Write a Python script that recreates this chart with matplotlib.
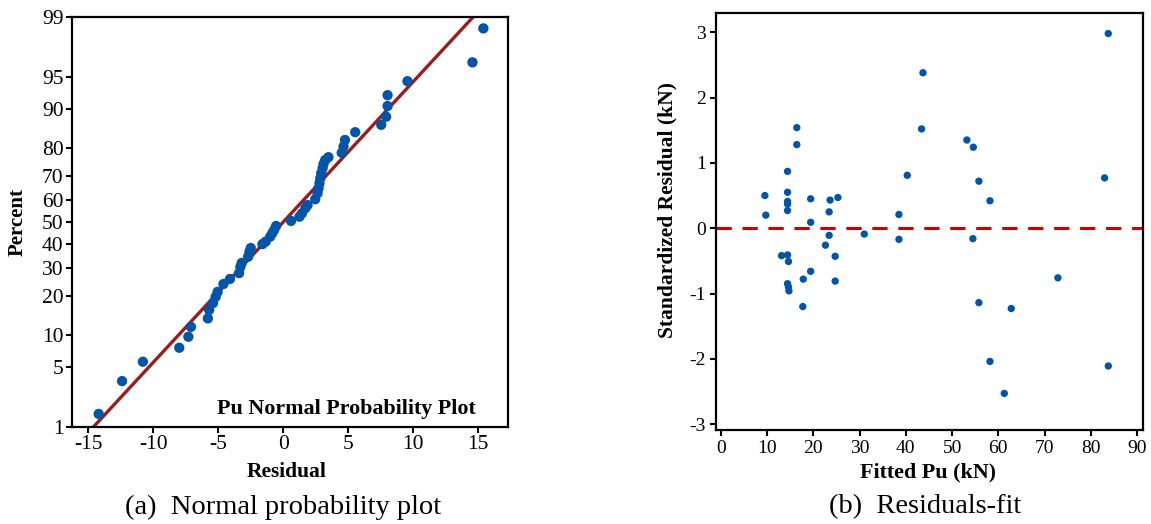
import numpy as np
import matplotlib
matplotlib.use('Agg')
import matplotlib.pyplot as plt
from statistics import NormalDist

plt.rcParams['font.family'] = ['Liberation Serif', 'DejaVu Serif']
plt.rcParams['axes.unicode_minus'] = False

# (a) normal probability plot
residual = [-14.2, -12.4, -10.8, -8.0, -7.3, -7.1, -5.8, -5.7, -5.4, -5.2,
            -5.05, -4.6, -4.1, -3.4, -3.3, -3.2, -2.7, -2.6, -2.5, -1.6,
            -1.35, -1.0, -0.85, -0.7, -0.55, 0.6, 1.25, 1.44, 1.7, 1.87,
            2.46, 2.64, 2.72, 2.79, 2.85, 2.92, 3.03, 3.10, 3.23, 3.48,
            4.5, 4.64, 4.75, 5.54, 7.54, 7.92, 8.03, 8.03, 9.56, 14.56, 15.4]
percent = [1.47, 3.55, 5.64, 7.68, 9.65, 11.7, 13.7, 15.9, 17.9, 19.8,
           21.4, 24.1, 25.9, 28.1, 30.5, 32.1, 34.7, 36.8, 38.4, 40.1,
           41.2, 43.4, 44.9, 46.4, 48.2, 50.5, 52.4, 53.9, 56.2, 57.6,
           60.2, 62.8, 64.9, 67.0, 69.0, 71.0, 72.9, 74.5, 75.9, 76.9,
           78.4, 80.4, 82.4, 84.6, 86.5, 88.4, 90.6, 92.5, 94.5, 96.5, 98.6]
fit_mean = 0.0
fit_sd = 6.28
pct_ticks = [1, 5, 10, 20, 30, 40, 50, 60, 70, 80, 90, 95, 99]
res_ticks = [-15, -10, -5, 0, 5, 10, 15]

# (b) standardized residual vs fitted value
fitted = [9.5, 9.7, 14.4, 14.4, 14.4, 14.4, 14.4, 16.4, 16.4, 19.4,
          19.4, 23.6, 25.3, 23.4, 31.0, 23.4, 22.6, 38.5, 38.5, 24.7,
          13.1, 14.4, 14.6, 19.4, 17.8, 24.7, 14.4, 14.6, 14.7, 17.7,
          40.3, 43.4, 43.7, 53.2, 54.6, 55.8, 58.2, 54.5, 83.8, 83.0,
          72.9, 55.8, 62.8, 58.2, 83.8, 61.3]
std_resid = [0.50, 0.20, 0.87, 0.55, 0.41, 0.37, 0.27, 1.54, 1.28, 0.45,
             0.09, 0.43, 0.47, 0.25, -0.09, -0.11, -0.26, 0.21, -0.17, -0.43,
             -0.42, -0.41, -0.51, -0.66, -0.78, -0.81, -0.85, -0.90, -0.96, -1.20,
             0.81, 1.52, 2.38, 1.35, 1.24, 0.72, 0.42, -0.16, 2.98, 0.77,
             -0.76, -1.14, -1.23, -2.04, -2.11, -2.53]
fit_ticks = list(range(0, 100, 10))
sr_ticks = [-3, -2, -1, 0, 1, 2, 3]

blue = '#0055a8'
nd = NormalDist()
zq = lambda p: nd.inv_cdf(p / 100.0)

fig = plt.figure(figsize=(11.51, 5.24), dpi=100)

# ---- left panel
ax = fig.add_axes([0.0626, 0.1851, 0.3788, 0.7824])
zlim = zq(99)
ax.plot([fit_mean - fit_sd * zlim, fit_mean + fit_sd * zlim], [-zlim, zlim],
        color='#9b1c1c', lw=2.4, zorder=2)
ax.scatter(residual, [zq(p) for p in percent], s=55, color=blue,
           edgecolors='none', zorder=3)
ax.set_xlim(-16.25, 17.3)
ax.set_ylim(-zlim, zlim)
ax.set_yticks([zq(p) for p in pct_ticks])
ax.set_yticklabels([str(p) for p in pct_ticks])
ax.set_xticks(res_ticks)
ax.set_xticklabels([str(t) for t in res_ticks])
ax.tick_params(labelsize=15.5, length=4, width=1.5, pad=2)
for s in ax.spines.values():
    s.set_linewidth(1.6)
ax.text(0.925, 0.045, 'Pu Normal Probability Plot', transform=ax.transAxes,
        ha='right', va='center', fontsize=15.8, fontweight='bold')
fig.text(18 / 1151, 1 - 222 / 524, 'Percent', rotation=90, ha='center',
         va='center', fontsize=15, fontweight='bold')
fig.text(287 / 1151, 1 - 472 / 524, 'Residual', ha='center', va='center',
         fontsize=15.5, fontweight='bold')
fig.text(283 / 1151, 1 - 507 / 524, '(a)  Normal probability plot',
         ha='center', va='center', fontsize=20.5)

# ---- right panel
ax2 = fig.add_axes([0.6218, 0.1794, 0.3712, 0.7964])
ax2.axhline(0, color='#cc0000', lw=2.2, dashes=(5, 3.5), zorder=2)
ax2.scatter(fitted, std_resid, s=28, color=blue, edgecolors='none', zorder=3)
ax2.set_xlim(-1.15, 91.3)
ax2.set_ylim(-3.09, 3.3)
ax2.set_xticks(fit_ticks)
ax2.set_yticks(sr_ticks)
ax2.tick_params(labelsize=14, length=4, width=1.5, pad=3)
for s in ax2.spines.values():
    s.set_linewidth(1.6)
fig.text(667 / 1151, 1 - 210 / 524, 'Standardized Residual (kN)', rotation=90,
         ha='center', va='center', fontsize=15.5, fontweight='bold')
fig.text(928 / 1151, 1 - 472 / 524, 'Fitted Pu (kN)', ha='center',
         va='center', fontsize=15.8, fontweight='bold')
fig.text(925 / 1151, 1 - 507 / 524, '(b)  Residuals-fit', ha='center',
         va='center', fontsize=20.5)

plt.savefig('out.png', dpi=100)
